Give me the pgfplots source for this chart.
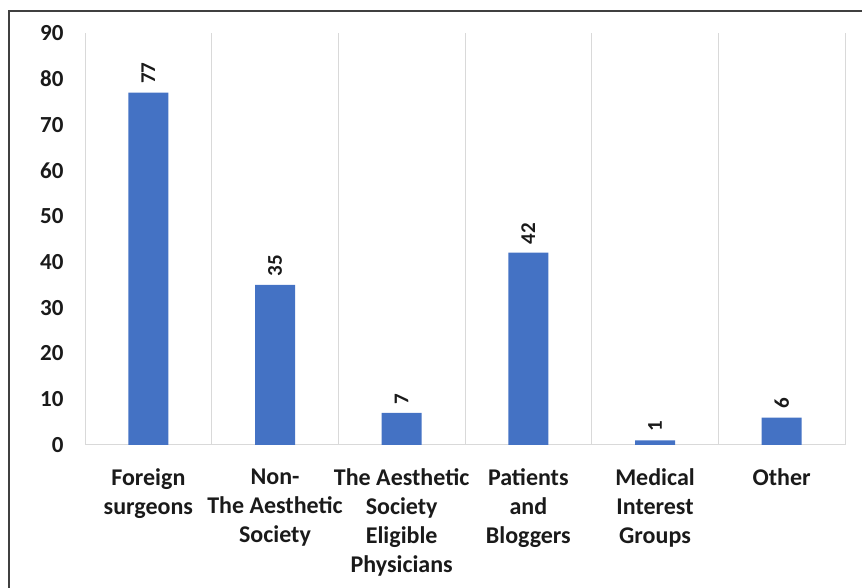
\documentclass[border=0pt]{standalone}
\usepackage{pgfplots}
\pgfplotsset{compat=1.18}
\usepackage{fontspec}
\setmainfont{Carlito}
\definecolor{barblue}{HTML}{4472C4}
\definecolor{gridgray}{HTML}{D9D9D9}
\definecolor{txt}{HTML}{1A1A1A}
\begin{document}
\begin{tikzpicture}[x=1pt,y=1pt]
  \useasboundingbox (0,0) rectangle (862,588);
  % frame (left and top only visible)
  \draw[line width=2pt, color=black!75] (9,0) -- (9,577) -- (863,577);
  \begin{axis}[
      at={(85pt,143pt)}, anchor=south west,
      scale only axis,
      width=760pt, height=412pt,
      xmin=-0.5, xmax=5.5,
      ymin=0, ymax=90,
      ytick={0,10,...,90},
      xtick={0,1,2,3,4,5},
      xticklabels={{Foreign\\surgeons},{Non-\\The Aesthetic\\Society},{The Aesthetic\\Society\\Eligible\\Physicians},{Patients\\and\\Bloggers},{Medical\\Interest\\Groups},{Other}},
      minor xtick={-0.5,0.5,...,5.5},
      xminorgrids=true,
      minor grid style={draw=gridgray, line width=1pt},
      major tick length=0pt, minor tick length=0pt,
      axis lines*=left,
      x axis line style={draw=gridgray, line width=1pt, -},
      y axis line style={draw=none},
      yticklabel style={font=\fontsize{23}{28}\selectfont\bfseries, text=txt, xshift=-18pt},
      xticklabel style={font=\fontsize{24}{29}\selectfont\bfseries, text=txt, align=center, anchor=north, yshift=-20pt},
      /pgf/number format/assume math mode=true,
      ybar, bar width=40pt,
      nodes near coords,
      nodes near coords style={yshift=5pt, rotate=90, anchor=west, font=\fontsize{21}{25}\selectfont\bfseries, text=txt},
      clip=false,
    ]
    \addplot[fill=barblue, draw=none] coordinates {(0,77) (1,35) (2,7) (3,42) (4,1) (5,6)};
  \end{axis}
\end{tikzpicture}
\end{document}
